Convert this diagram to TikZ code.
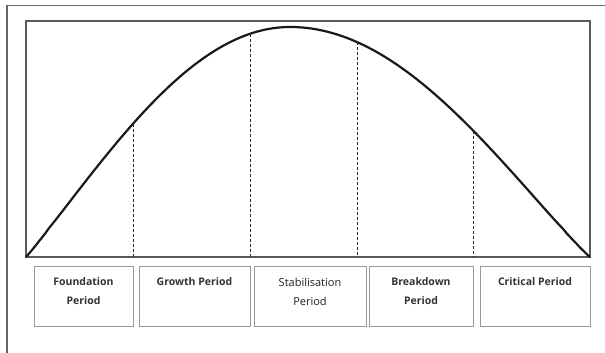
\documentclass[tikz,border=0pt]{standalone}
\usepackage{fontspec}
\setmainfont{Open Sans}
\begin{document}
\begin{tikzpicture}[x=1pt,y=-1pt,
  frame/.style={draw=black!60,line width=1.1pt},
  plotbox/.style={draw=black!65,line width=1.2pt},
  curve/.style={draw=black!90,line width=2.2pt,line join=round},
  guide/.style={draw=black!85,line width=0.8pt,dash pattern=on 3pt off 2pt},
  periodbox/.style={draw=black!40,line width=0.9pt,minimum height=60pt,inner sep=0pt},
  boldlabel/.style={anchor=north,inner sep=0pt,align=center,text=black!80,font=\fontsize{10.5}{19}\selectfont\bfseries},
  plainlabel/.style={anchor=north,inner sep=0pt,align=center,text=black!88,font=\fontsize{11}{19}\selectfont}
]
\useasboundingbox (0,0) rectangle (605,353);
% outer frame
\draw[frame] (7,353) -- (7,5.5) -- (606,5.5);
% plot box
\draw[plotbox] (26,21) rectangle (590,257);
\coordinate (L) at (26,257);
\coordinate (R) at (590,257);
% curve
\draw[curve] (L) -- plot[domain=1:90,samples=80] ({26+2.93333*\x},{257-230*exp(1.05*ln(sin(\x)))})
  -- plot[domain=0:89,samples=90] ({290+3.33333*\x},{257-230*exp(1.08*ln(cos(\x)))}) -- (R);
% guide lines
\coordinate (g1t) at (133,124.3); \coordinate (g1b) at (133,257);
\coordinate (g2t) at (250,33.7);  \coordinate (g2b) at (250,257);
\coordinate (g3t) at (357,42.1);  \coordinate (g3b) at (357,257);
\coordinate (g4t) at (473,130.5); \coordinate (g4b) at (473,257);
\draw[guide] (g1t) -- (g1b);
\draw[guide] (g2t) -- (g2b);
\draw[guide] (g3t) -- (g3b);
\draw[guide] (g4t) -- (g4b);
% period boxes
\node[periodbox,minimum width=99pt]  (b1) at (83.5,296) {};
\node[periodbox,minimum width=111pt] (b2) at (194.5,296) {};
\node[periodbox,minimum width=112pt] (b3) at (310,296) {};
\node[periodbox,minimum width=104pt] (b4) at (421,296) {};
\node[periodbox,minimum width=110pt] (b5) at (535,296) {};
\node[boldlabel]  (t1) at ([yshift=-12pt]b1.north) {Foundation\\Period};
\node[boldlabel]  (t2) at ([yshift=-12pt]b2.north) {Growth Period};
\node[plainlabel] (t3) at ([yshift=-12pt]b3.north) {Stabilisation\\Period};
\node[boldlabel]  (t4) at ([yshift=-12pt]b4.north) {Breakdown\\Period};
\node[boldlabel]  (t5) at ([yshift=-12pt]b5.north) {Critical Period};
\end{tikzpicture}
\end{document}
